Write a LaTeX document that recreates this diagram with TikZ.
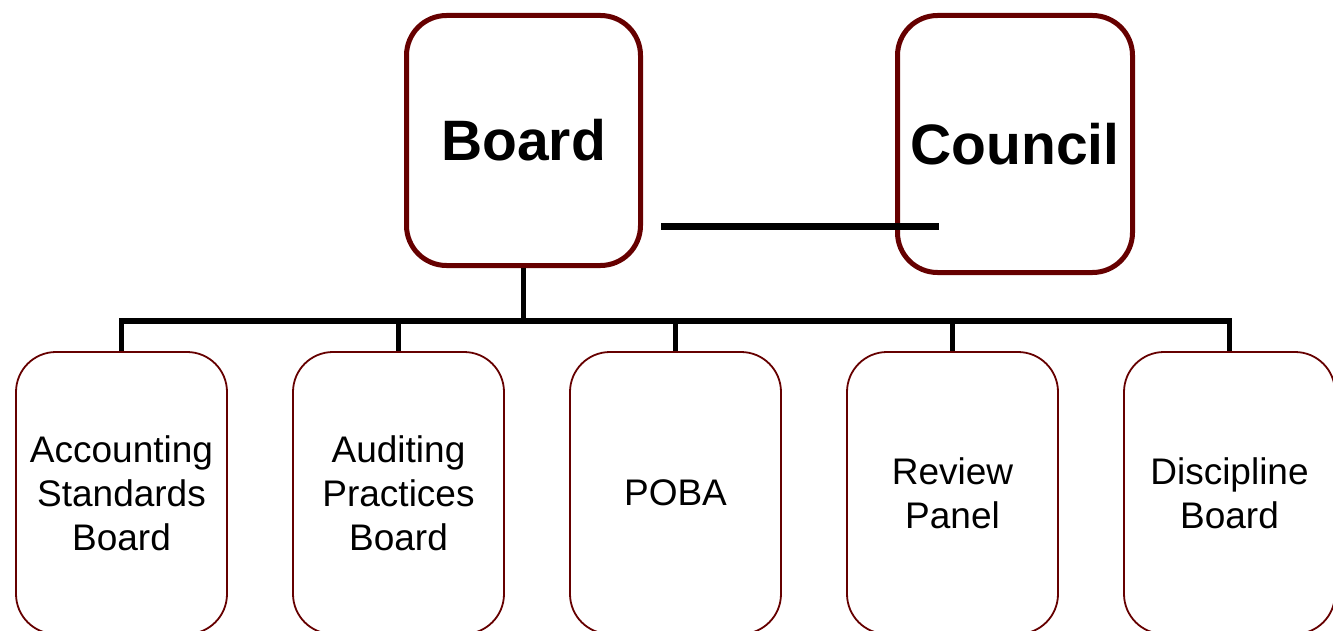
\documentclass[tikz,border=0pt]{standalone}
\usepackage{fontspec}
\setmainfont{Liberation Sans}
\definecolor{boxred}{HTML}{660000}
\begin{document}
\begin{tikzpicture}[x=1pt,y=-1pt,
  topbox/.style={draw=boxred, line width=5pt, rounded corners=40pt, fill=white,
    inner sep=0pt, font=\fontsize{57}{66}\selectfont\bfseries},
  childbox/.style={draw=boxred, line width=1.8pt, rounded corners=40pt, fill=white,
    minimum width=211pt, minimum height=282pt, inner sep=0pt, align=center,
    font=\fontsize{37}{44}\selectfont},
  tree/.style={line width=5.5pt, line join=miter},
  link/.style={line width=7pt}]
\useasboundingbox (0,0) rectangle (1333,631);
\clip (0,0) rectangle (1333,631);
\node[topbox, minimum width=234pt, minimum height=250pt] (board) at (523.5,140.5) {Board};
\node[topbox, minimum width=235pt, minimum height=257pt] (council) at (1015,144) {Council};
\node[childbox] (c1) at (121.5,493) {Accounting\\Standards\\Board};
\node[childbox] (c2) at (398.5,493) {Auditing\\Practices\\Board};
\node[childbox] (c3) at (675.5,493) {POBA};
\node[childbox] (c4) at (952.5,493) {Review\\Panel};
\node[childbox] (c5) at (1229.5,493) {Discipline\\Board};
\coordinate (bus) at (523.5,321);
\draw[tree] (board.south) -- (bus);
\foreach \c in {c1,c2,c3,c4,c5} {\draw[tree] (bus) -| (\c.north);}
\coordinate (hl) at (661,227);
\coordinate (hr) at (939,227);
\draw[link] (hl) -- (hr);
\end{tikzpicture}
\end{document}
